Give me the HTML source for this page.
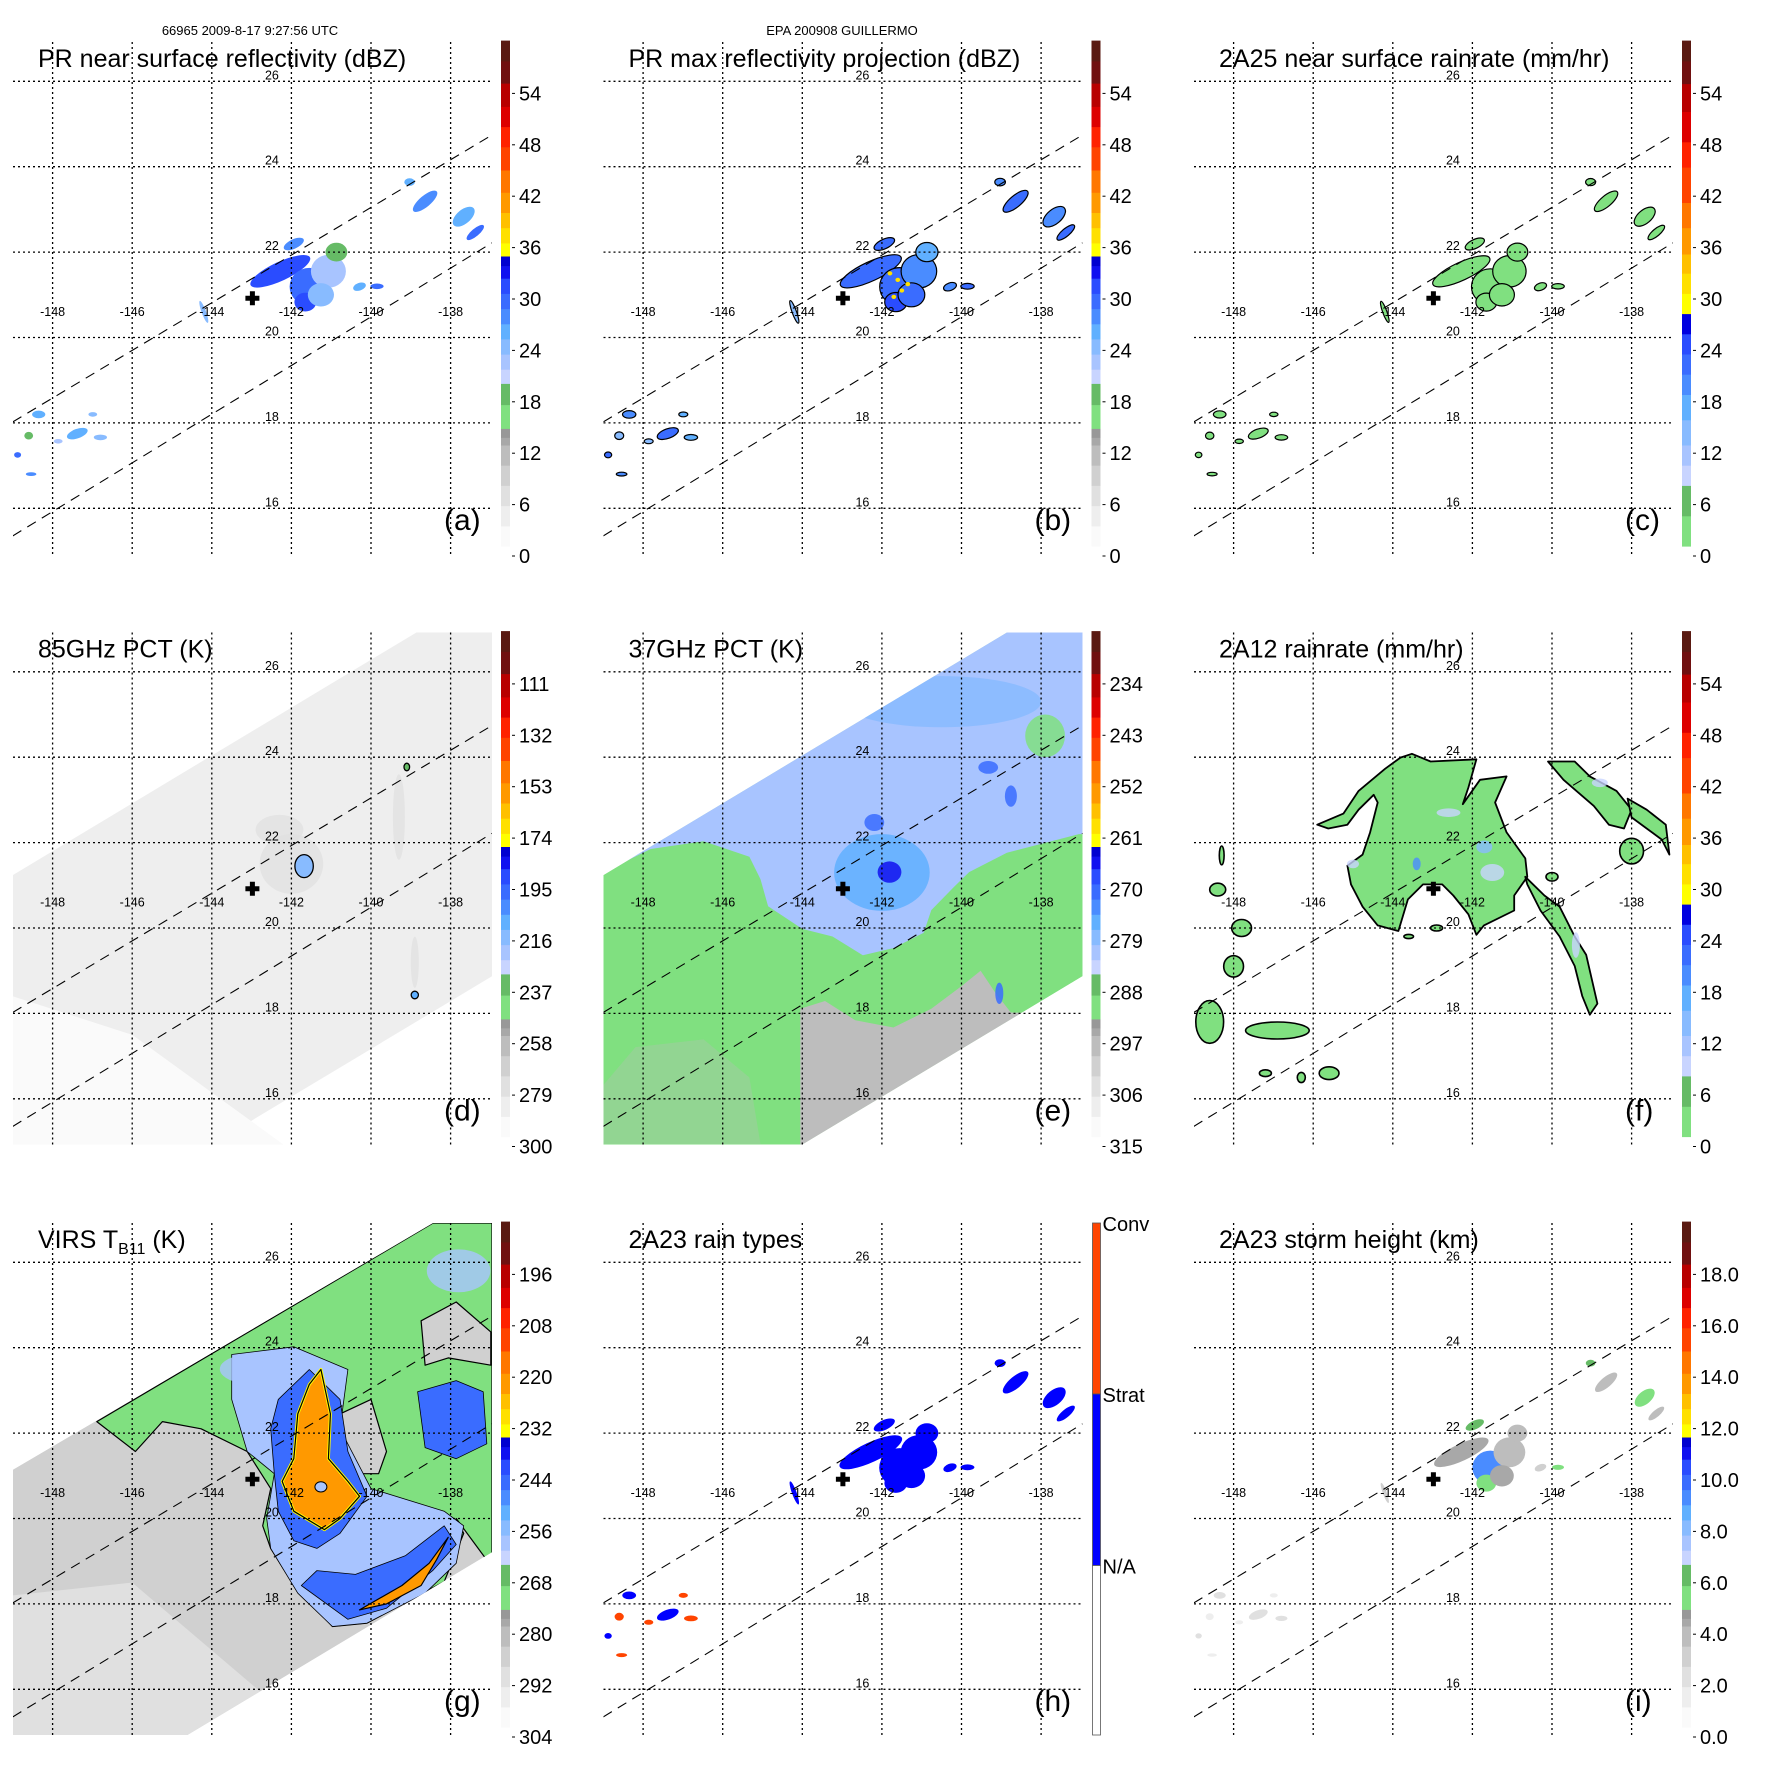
<!DOCTYPE html>
<html><head><meta charset="utf-8"><style>
html,body{margin:0;padding:0;background:#fff;width:1771px;height:1771px;overflow:hidden;}
svg{display:block;font-family:"Liberation Sans",sans-serif;}
</style></head><body>
<svg id="fig" width="1771" height="1771" viewBox="0 0 1771 1771" xmlns="http://www.w3.org/2000/svg">
<rect width="1771" height="1771" fill="#fff"/>
<defs id="defs"></defs>
<text x="250" y="35" font-size="13" text-anchor="middle">66965 2009-8-17 9:27:56 UTC</text>
<text x="842" y="35" font-size="13" text-anchor="middle">EPA 200908 GUILLERMO</text>
</svg>
<script>
// ---------- DATA ----------
const LONS = [-148,-146,-144,-142,-140,-138];
const LATS = [26,24,22,20,18,16];
const CENTER = [-142.98,20.92];
const TITLES = ['PR near surface reflectivity (dBZ)','PR max reflectivity projection (dBZ)','2A25 near surface rainrate (mm/hr)','85GHz PCT (K)','37GHz PCT (K)','2A12 rainrate (mm/hr)','VIRS T','2A23 rain types','2A23 storm height (km)'];
const LETTERS = ['(a)','(b)','(c)','(d)','(e)','(f)','(g)','(h)','(i)'];
const CB_A = ['0','6','12','18','24','30','36','42','48','54'];
const CB_D = ['300','279','258','237','216','195','174','153','132','111'];
const CB_E = ['315','306','297','288','279','270','261','252','243','234'];
const CB_G = ['304','292','280','268','256','244','232','220','208','196'];
const CB_I = ['0.0','2.0','4.0','6.0','8.0','10.0','12.0','14.0','16.0','18.0'];
const CB_H = ['Conv','Strat','N/A'];
const ECHO_POS = [
 [-142.28,21.55,0.75,0.2,-25],[-141.55,21.19,0.45,0.4,0],[-141.65,20.83,0.25,0.2,0],[-141.07,21.55,0.4,0.35,0],
 [-140.87,22.0,0.25,0.2,0],[-140.29,21.19,0.15,0.08,-20],[-139.85,21.2,0.15,0.06,0],[-141.94,22.19,0.25,0.1,-25],
 [-141.26,21.0,0.3,0.25,0],[-138.64,23.19,0.35,0.12,-40],[-137.67,22.83,0.3,0.15,-40],[-137.38,22.46,0.25,0.08,-40],
 [-139.03,23.64,0.12,0.08,0],[-147.38,17.75,0.25,0.1,-20],[-148.35,18.2,0.15,0.08,0],[-146.8,17.66,0.15,0.06,0],
 [-148.88,17.25,0.08,0.06,0],[-148.54,16.8,0.12,0.04,0],[-147.86,17.57,0.1,0.05,0],[-146.99,18.2,0.1,0.05,0],
 [-144.2,20.6,0.05,0.25,-20],[-148.6,17.7,0.1,0.08,0]];
const ECHO_DBZ  = [31,30,32,22,18,27,29,28,25,28,26,30,26,27,26,24,30,28,22,24,24,20];
const ECHO_MAX  = [30,29,31,28,26,28,30,29,29,29,28,30,28,29,28,27,30,28,25,26,25,24];
const ECHO_RAIN = [3,3,3,2,2,1,2,2,2,2,1,2,1,2,1,1,2,1,1,1,1,1];
const ECHO_TYPE = ['S','S','S','S','S','S','S','S','S','S','S','S','S','S','S','C','S','C','C','C','S','C'];
const ECHO_HT   = [4.5,9.5,5.8,4.2,4,3,5.8,6,4.5,4,5.8,4,6,2,2,2,2.5,1.5,1.5,1.5,3,1.5];
const B_CORES = [[-141.6,21.35],[-141.5,21.1],[-141.7,20.95],[-141.35,21.25],[-141.8,21.5]];
const SWATH = [[-149.0,21.24],[-138.86,26.92],[-136.96,26.92],[-136.96,18.87],[-144.0,14.93],[-149.0,14.93]];
const SWATH_G = [[-149.0,21.14],[-138.44,26.92],[-136.96,26.92],[-136.96,19.21],[-144.61,14.93],[-149.0,14.93]];
const D_BASE = 287;
const D_LIGHT = [[-149,14.93],[-149,18.4],[-146,17.5],[-142.2,14.93]];
const D_SPOTS = [[-141.8,21.6,1.7,1.5,282],[-142.0,21.5,0.8,0.7,277],[-139.3,22.6,0.15,1.0,276],[-138.9,19.2,0.1,0.6,275],[-142.3,22.3,0.6,0.35,276]];
const D_CELLS = [[-141.68,21.45,0.23,0.27,215],[-138.9,18.43,0.09,0.09,210],[-139.1,23.77,0.07,0.09,230]];
const E_BASE = 292;
const E_BLUE = [[-149.0,21.3],[-147.81,21.85],[-146.48,22.03],[-145.33,21.67],[-145.05,21.14],[-144.86,20.51],[-144.0,19.98],[-143.24,19.80],[-142.48,19.36],[-141.71,19.53],[-140.95,19.89],[-140.76,20.42],[-140.19,20.96],[-139.81,21.31],[-138.86,21.76],[-137.05,22.2],[-136.96,22.2],[-136.96,26.92],[-149.0,26.92]];
const E_BLUE_K = 281;
const E_GRAY = [[-144.05,14.93],[-144.05,18.11],[-143.43,18.29],[-142.67,17.84],[-141.71,17.67],[-140.76,18.11],[-140.0,18.64],[-139.52,19.0],[-139.14,18.47],[-138.76,18.02],[-136.96,18.0],[-136.96,14.93]];
const E_GRAY_K = 296;
const E_MOTTLE = [[-148.19,17.21],[-146.48,17.39],[-145.33,16.5],[-145.05,14.94],[-149.0,14.94],[-149.0,16.32]];
const E_SPOTS = [[-140.5,25.3,2.5,0.6,277],[-142.0,21.3,1.2,0.9,276],[-141.81,21.31,0.3,0.25,266],[-142.19,22.47,0.25,0.2,270],[-139.33,23.76,0.25,0.15,270],[-138.76,23.09,0.15,0.25,270],[-139.05,18.47,0.1,0.25,270],[-137.9,24.5,0.5,0.5,290]];
const F_MAIN = [[-145.90,22.42],[-145.24,22.68],[-144.86,23.21],[-144.19,23.73],[-143.81,23.99],[-143.52,24.08],[-143.05,23.90],[-141.90,23.95],[-142.10,23.29],[-142.24,22.90],[-141.81,23.47],[-141.14,23.55],[-141.43,22.94],[-141.14,22.24],[-140.67,21.63],[-140.62,21.20],[-140.95,20.76],[-140.95,20.41],[-141.71,20.06],[-141.90,19.84],[-142.10,20.32],[-142.48,20.76],[-142.76,21.02],[-143.24,21.02],[-143.62,20.67],[-143.86,19.93],[-144.38,20.06],[-144.76,20.50],[-145.05,21.02],[-145.14,21.46],[-144.76,21.72],[-144.57,22.24],[-144.38,22.94],[-144.48,23.12],[-144.86,22.77],[-145.14,22.42],[-145.62,22.33]];
const F_NE1 = [[-140.10,23.90],[-139.43,23.90],[-139.05,23.55],[-138.38,23.21],[-138.0,22.77],[-138.19,22.33],[-138.57,22.42],[-138.95,22.86],[-139.71,23.47]];
const F_NE2 = [[-138.10,23.03],[-137.62,22.77],[-137.14,22.42],[-137.05,21.72],[-137.24,22.07],[-137.62,22.33],[-138.0,22.59]];
const F_SE = [[-140.67,21.20],[-140.19,20.76],[-139.81,20.50],[-139.43,19.80],[-139.14,19.37],[-138.86,18.23],[-139.05,17.97],[-139.24,18.41],[-139.43,19.11],[-139.81,19.80],[-140.29,20.41],[-140.62,21.02]];
const F_RAIN = 2;
const F_BLOBS = [[-148.4,20.9,0.2,0.15],[-147.8,20.0,0.25,0.2],[-148.0,19.1,0.25,0.25],[-148.6,17.8,0.35,0.5],[-146.9,17.6,0.8,0.2],[-147.2,16.6,0.15,0.08],[-146.3,16.5,0.1,0.12],[-145.6,16.6,0.25,0.15],[-148.3,21.7,0.06,0.22],[-138.0,21.8,0.3,0.3],[-140.0,21.2,0.15,0.1],[-143.6,19.8,0.12,0.05],[-142.9,20.0,0.15,0.07]];
const F_SPOTS = [[-142.6,22.7,0.3,0.1,10],[-141.7,21.9,0.2,0.15,14],[-141.5,21.3,0.3,0.2,10],[-143.4,21.5,0.1,0.15,20],[-145.0,21.5,0.15,0.1,9],[-138.8,23.4,0.2,0.1,9],[-139.4,19.6,0.1,0.3,10]];
const G_BASE = 287;
const G_LIGHT = [[-149,14.93],[-149,18.2],[-146,18.5],[-141.5,14.93]];
const G_DARK = [[-149,21],[-146,22.5],[-144,21.2],[-146,19.5],[-149,19.8]];
const G_GREEN = [[-146.89,22.27],[-138.44,26.92],[-136.96,26.92],[-136.96,18.86],[-137.86,20.0],[-137.67,19.65],[-138.16,18.52],[-140.10,17.55],[-140.97,17.47],[-141.94,18.43],[-142.52,19.30],[-142.72,19.83],[-142.52,20.70],[-143.11,21.57],[-144.27,22.10],[-145.24,22.27],[-145.92,21.57]];
const G_HOLES = [
 [[-138.74,24.63],[-137.86,25.07],[-136.99,24.37],[-136.99,23.59],[-138.06,23.76],[-138.64,23.59]],
 [[-140.58,20.0],[-140.0,20.52],[-139.13,20.26],[-138.64,19.39],[-139.61,18.95],[-140.39,19.30]],
 [[-140.78,22.45],[-140.0,22.79],[-139.61,21.57],[-139.81,21.05],[-140.58,21.05]]];
const G_LBLUE = [[-143.50,23.84],[-141.94,24.02],[-140.58,23.49],[-140.78,22.10],[-140.0,20.70],[-138.16,20.17],[-137.67,19.83],[-137.86,18.95],[-138.64,18.25],[-140.10,17.55],[-140.97,17.47],[-141.84,18.25],[-142.52,19.30],[-142.62,20.0],[-142.43,21.05],[-143.11,21.57],[-143.50,22.79]];
const G_BLUE = [
 [[-142.33,22.79],[-141.55,23.49],[-140.78,22.79],[-140.58,21.57],[-140.10,20.52],[-140.78,19.65],[-141.36,19.30],[-141.94,19.48],[-142.33,20.17],[-142.43,21.05],[-142.52,22.10]],
 [[-141.75,18.43],[-140.58,17.64],[-139.61,17.90],[-138.45,18.78],[-137.86,19.39],[-138.16,19.83],[-139.13,19.13],[-140.39,18.69],[-141.36,18.78]],
 [[-138.83,22.97],[-137.86,23.23],[-137.18,22.97],[-137.09,21.75],[-137.86,21.40],[-138.64,21.66]]];
const G_CORE = [[-141.26,23.49],[-141.02,22.45],[-141.07,21.40],[-140.58,20.87],[-140.29,20.52],[-140.78,20.0],[-141.17,19.74],[-141.94,20.17],[-142.23,20.87],[-141.94,21.40],[-141.84,22.45],[-141.55,23.14]];
const G_STREAK = [[-140.29,17.86],[-139.22,18.43],[-138.54,18.95],[-138.06,19.56],[-138.35,19.04],[-138.74,18.43],[-139.61,18.0]];
const G_LB_EXTRA = [[-137.8,25.8,0.8,0.5],[-143.0,23.5,0.8,0.35]];
const G_EYE = [-141.26,20.74,0.15,0.12];
const G_K = {green:270, lblue:258, blue:246, core:222, edge:232, hole:284, light:292, dark:283};

// ---------- HELPERS ----------
const NS='http://www.w3.org/2000/svg';
const svg=document.getElementById('fig');
const defs=document.getElementById('defs');
function mk(tag,parent,attrs){const e=document.createElementNS(NS,tag);for(const k in attrs)e.setAttribute(k,attrs[k]);parent.appendChild(e);return e;}
const X=lon=>52.6+(lon+148)*39.8;
const Y=lat=>81.3+(26-lat)*42.7;
const SX=39.8, SY=42.7;
const STD=[[0,'#fafafa'],[0.04,'#eeeeee'],[0.08,'#e0e0e0'],[0.12,'#d0d0d0'],[0.16,'#bdbdbd'],[0.2,'#a8a8a8'],[0.215,'#989898'],[0.233,'#80e080'],[0.28,'#66bb66'],[0.322,'#c8d4ff'],[0.35,'#a8c4ff'],[0.38,'#88bbff'],[0.41,'#60b0ff'],[0.44,'#4a8cff'],[0.47,'#3a6cff'],[0.5,'#2a4cff'],[0.53,'#1010f0'],[0.555,'#0000d0'],[0.574,'#ffff00'],[0.6,'#ffe000'],[0.63,'#ffc000'],[0.66,'#ff9900'],[0.7,'#ff7700'],[0.744,'#ff4400'],[0.79,'#ff2200'],[0.83,'#dd0000'],[0.87,'#b80000'],[0.916,'#701010'],[0.96,'#5a1a12']];
const CF=[[0,'#80e080'],[0.06,'#66bb66'],[0.12,'#c8d4ff'],[0.16,'#a8c4ff'],[0.2,'#88bbff'],[0.25,'#60b0ff'],[0.3,'#4a8cff'],[0.34,'#3a6cff'],[0.38,'#2a4cff'],[0.42,'#0000e0'],[0.46,'#ffff00'],[0.5,'#ffe000'],[0.54,'#ffc000'],[0.578,'#ff9900'],[0.63,'#ff7700'],[0.68,'#ff4400'],[0.75,'#ff2200'],[0.8,'#dd0000'],[0.86,'#b80000'],[0.915,'#701010'],[0.96,'#5a1a12']];
function cm(t,map){let c=map[0][1];for(const s of map){if(t>=s[0])c=s[1];}return c;}
const tU=u=>(u*8.567-10)/505.4;
const uD=K=>(300-K)/21*6, uE=K=>(315-K)/9*6, uG=K=>(304-K)/12*6;
function pts(arr){return arr.map(p=>X(p[0]).toFixed(1)+','+Y(p[1]).toFixed(1)).join(' ');}
function poly(parent,arr,fill,name,stroke,sw,op){
 const e=mk('polygon',parent,{points:pts(arr),fill:fill,stroke:stroke||'none','stroke-width':sw||0,'stroke-linejoin':'round',opacity:op==null?1:op});
 
 
 return e;}
function ell(parent,lon,lat,rx,ry,rot,fill,name,stroke,sw,op){
 const e=mk('ellipse',parent,{cx:X(lon).toFixed(1),cy:Y(lat).toFixed(1),rx:(rx*SX).toFixed(1),ry:(ry*SY).toFixed(1),transform:`rotate(${rot} ${X(lon).toFixed(1)} ${Y(lat).toFixed(1)})`,fill:fill,stroke:stroke||'none','stroke-width':sw||0,opacity:op==null?1:op});
 
 
 return e;}

function panel(i,drawData,cbLabels,cmap){
 const ox=(i%3)*590.5, oy=Math.floor(i/3)*590.5;
 const g=mk('g',svg,{transform:`translate(${ox},${oy})`});
 
 
 const cp=mk('clipPath',defs,{id:'clip'+i});
 mk('rect',cp,{x:13,y:42,width:479,height:512});
 const dg=mk('g',g,{'clip-path':`url(#clip${i})`});
 
 
 drawData(dg);
 for(const lon of LONS){
  const l=mk('line',g,{x1:X(lon),x2:X(lon),y1:42,y2:554,stroke:'#000','stroke-width':1.3,'stroke-dasharray':'2,3'});
  
  
  const t=mk('text',g,{x:X(lon),y:316,'font-size':12.5,'text-anchor':'middle'});
  t.textContent=String(lon);
  
  
 }
 for(const lat of LATS){
  const l=mk('line',g,{x1:13,x2:492,y1:Y(lat),y2:Y(lat),stroke:'#000','stroke-width':1.3,'stroke-dasharray':'2,3'});
  
  
  const t=mk('text',g,{x:X(-142.49),y:Y(lat)-2,'font-size':12.5,'text-anchor':'middle'});
  t.textContent=String(lat);
  
  
 }
 const sg=mk('g',g,{'clip-path':`url(#clip${i})`});
 const up=lon=>18.03+0.558*(lon+148.99), lo=lon=>15.36+0.570*(lon+148.99);
 [[up,'swath-upper-edge'],[lo,'swath-lower-edge']].forEach(([f,n])=>{
  const l=mk('line',sg,{x1:X(-149.0),y1:Y(f(-149.0)),x2:X(-136.96),y2:Y(f(-136.96)),stroke:'#000','stroke-width':1.1,'stroke-dasharray':'10,7'});
  
  
 });
 const cx=X(CENTER[0]), cy=Y(CENTER[1]);
 const cr=mk('path',g,{d:`M${cx-7},${cy-2.5}h14v5h-14z M${cx-2.5},${cy-7}h5v14h-5z`,fill:'#000'});
 
 
 const tt=mk('text',g,{x:38,y:67,'font-size':25});
 tt.textContent=TITLES[i];
 
 
 if(i===6){const s=mk('tspan',tt,{'font-size':16,dy:6});s.textContent='B11';const s2=mk('tspan',tt,{dy:-6});s2.textContent=' (K)';}
 const lt=mk('text',g,{x:444,y:530,'font-size':30});
 lt.textContent=LETTERS[i];
 
 
 const cb=mk('g',g,{});
 
 
 if(cmap){
  for(let k=0;k<cmap.length;k++){
   const t0=cmap[k][0], t1=k+1<cmap.length?cmap[k+1][0]:1;
   const r=mk('rect',cb,{x:501,y:(546-t1*505.4).toFixed(1),width:9,height:((t1-t0)*505.4+0.6).toFixed(1),fill:cmap[k][1]});
   
   
  }
  cbLabels.forEach((s,k)=>{
   const y=556-k*51.4;
   const t=mk('text',cb,{x:519,y:y+7,'font-size':20});
   t.textContent=s;
   
   
   const tk=mk('line',cb,{x1:512,x2:515,y1:y,y2:y,stroke:'#000','stroke-width':1});
   
   
  });
 } else {
  const segs=[[42,213,'#ff4400'],[213,384.5,'#0000ff'],[384.5,554,'#ffffff']];
  segs.forEach(s=>{const r=mk('rect',cb,{x:502,y:s[0],width:8,height:s[1]-s[0],fill:s[2],stroke:'#555','stroke-width':0.8});
   
   });
  [42,213,384.5].forEach((y,k)=>{const t=mk('text',cb,{x:512,y:y+8,'font-size':20});
   t.textContent=cbLabels[k];
   
   });
 }
}

function echoes(dg,vals,colorFn,stroke,scale){
 ECHO_POS.forEach((p,k)=>{
  ell(dg,p[0],p[1],p[2]*scale,p[3]*scale,p[4],colorFn(vals[k]),'rain-echo',stroke,stroke?1.2:0);
 });
}
panel(0,dg=>echoes(dg,ECHO_DBZ,v=>cm(tU(v),STD),null,1.1),CB_A,STD);
panel(1,dg=>{echoes(dg,ECHO_MAX,v=>cm(tU(v),STD),'#000',1.12);
 B_CORES.forEach(c=>ell(dg,c[0],c[1],0.06,0.05,0,cm(tU(37),STD),'convective-core'));},CB_A,STD);
panel(2,dg=>echoes(dg,ECHO_RAIN,v=>cm(tU(v),CF),'#000',1.05),CB_A,CF);
panel(3,dg=>{
 poly(dg,SWATH,cm(tU(uD(D_BASE)),STD),'tmi-swath');
 poly(dg,D_LIGHT,cm(tU(uD(293)),STD),'warm-region');
 D_SPOTS.forEach(s=>ell(dg,s[0],s[1],s[2],s[3],0,cm(tU(uD(s[4])),STD),'scattering-region',null,0,0.7));
 D_CELLS.forEach(s=>ell(dg,s[0],s[1],s[2],s[3],0,cm(tU(uD(s[4])),STD),'ice-scattering-cell','#000',1.3));
},CB_D,STD);
panel(4,dg=>{
 const cp=mk('clipPath',defs,{id:'swe'});mk('polygon',cp,{points:pts(SWATH)});
 const s=mk('g',dg,{'clip-path':'url(#swe)'});
 poly(s,SWATH,cm(tU(uE(E_BASE)),STD),'tmi-swath');
 poly(s,E_BLUE,cm(tU(uE(E_BLUE_K)),STD),'cold-region');
 poly(s,E_GRAY,cm(tU(uE(E_GRAY_K)),STD),'warm-ocean-region');
 poly(s,E_MOTTLE,cm(tU(uE(E_GRAY_K)),STD),'mottled-region',null,0,0.3);
 E_SPOTS.forEach(p=>ell(s,p[0],p[1],p[2],p[3],0,cm(tU(uE(p[4])),STD),'scattering-spot',null,0,0.85));
},CB_E,STD);
panel(5,dg=>{
 const f=cm(tU(F_RAIN),CF);
 [F_MAIN,F_NE1,F_NE2,F_SE].forEach(p=>poly(dg,p,f,'rain-area','#000',1.8));
 F_BLOBS.forEach(b=>ell(dg,b[0],b[1],b[2],b[3],0,f,'rain-cell','#000',1.6));
 F_SPOTS.forEach(b=>ell(dg,b[0],b[1],b[2],b[3],0,cm(tU(b[4]),CF),'heavier-rain',null,0,0.8));
},CB_A,CF);
panel(6,dg=>{
 const cp=mk('clipPath',defs,{id:'swg'});mk('polygon',cp,{points:pts(SWATH_G)});
 const s=mk('g',dg,{'clip-path':'url(#swg)'});
 const c=K=>cm(tU(uG(K)),STD);
 poly(s,SWATH_G,c(G_BASE),'virs-swath');
 poly(s,G_LIGHT,c(G_K.light),'clear-region');
 poly(s,G_DARK,c(G_K.dark),'low-cloud-region');
 poly(s,G_GREEN,c(G_K.green),'cloud-region','#000',1.2);
 G_HOLES.forEach(h=>poly(s,h,c(G_K.hole),'cloud-gap','#000',1.2));
 poly(s,G_LBLUE,c(G_K.lblue),'cold-cloud-region','#000',0.8);
 G_LB_EXTRA.forEach(e=>ell(s,e[0],e[1],e[2],e[3],0,c(G_K.lblue),'cold-cloud-patch',null,0,0.8));
 G_BLUE.forEach(h=>poly(s,h,c(G_K.blue),'very-cold-cloud','#000',0.8));
 poly(s,G_CORE,c(G_K.core),'cloud-top-core',c(G_K.edge),3);
 poly(s,G_CORE,'none','cloud-top-contour','#000',1.2);
 poly(s,G_STREAK,c(G_K.core),'rainband-core','#000',1.2);
 ell(s,G_EYE[0],G_EYE[1],G_EYE[2],G_EYE[3],0,c(G_K.lblue),'eye-region','#000',1);
},CB_G,STD);
panel(7,dg=>echoes(dg,ECHO_TYPE,v=>v==='C'?'#ff4400':'#0000ff',null,1.15),CB_H,null);
panel(8,dg=>echoes(dg,ECHO_HT,v=>cm(tU(v*3),STD),null,1),CB_I,STD);
</script>
</body></html>
